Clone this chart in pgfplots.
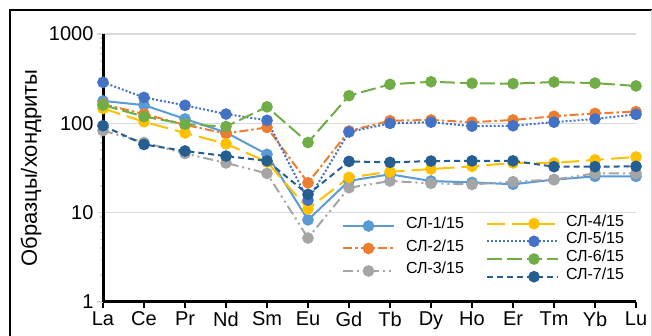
\documentclass[border=0pt]{standalone}
\usepackage{fontspec}
\setmainfont{Liberation Sans}
\usepackage{pgfplots}
\pgfplotsset{compat=1.18}
\definecolor{c1}{HTML}{5B9BD5}
\definecolor{c2}{HTML}{ED7D31}
\definecolor{c3}{HTML}{A5A5A5}
\definecolor{c4}{HTML}{FFC000}
\definecolor{c5}{HTML}{4472C4}
\definecolor{c6}{HTML}{70AD47}
\definecolor{c7}{HTML}{255E91}
\definecolor{gridc}{HTML}{D9D9D9}
\pgfplotstableread{
x  s1    s2    s3    s4    s5    s6    s7
0  178   164   83    147   288   160   94
1  160   127   61    104   195   119   58
2  112   96    46    78    159   98    49
3  79    77    36    59    127   92    43
4  45    90    27.5  37    108   153   38
5  8.3   21.6  5.2   11    13.8  61    16
6  22.7  82    19    24.8  80    204   37.5
7  26.9  107   22.6  28.7  100   273   36.6
8  22.6  109   21.3  30.8  103   292   37.8
9  21.8  103   20.7  33    93    281   38
10 20.8  109   22.2  36    94    278   38
11 23.4  120   23.5  36    103   290   32.7
12 25.5  129   27.5  39    112   282   32.7
13 25.5  135   27.5  42    126   262   33
}\ree
\tikzset{
  lstyle1/.style={c1, line width=2pt, solid, mark=*, mark size=4.8pt, mark options={solid, fill=c1}},
  lstyle2/.style={c2, line width=2pt, dash pattern=on 9pt off 3pt on 2.5pt off 3pt, mark=*, mark size=4.8pt, mark options={solid, fill=c2}},
  lstyle3/.style={c3, line width=2pt, dash pattern=on 10pt off 4pt on 2pt off 4pt on 2pt off 4pt, mark=*, mark size=4.8pt, mark options={solid, fill=c3}},
  lstyle4/.style={c4, line width=2pt, dash pattern=on 18pt off 7pt, mark=*, mark size=4.8pt, mark options={solid, fill=c4}},
  lstyle5/.style={c5, line width=2pt, dash pattern=on 2pt off 2pt, mark=*, mark size=4.8pt, mark options={solid, fill=c5}},
  lstyle6/.style={c6, line width=2pt, dash pattern=on 15pt off 5pt, mark=*, mark size=4.8pt, mark options={solid, fill=c6}},
  lstyle7/.style={c7, line width=2pt, dash pattern=on 6pt off 4pt, mark=*, mark size=4.8pt, mark options={solid, fill=c7}},
}
\begin{document}
\begin{tikzpicture}
\path[use as bounding box] (0,0) rectangle (652pt,336pt);
\draw[black, line width=1.2pt] (10pt,0) -- (10pt,326pt) -- (652pt,326pt);
\draw[gridc, line width=1pt] (651pt,0) -- (651pt,326pt);
\node[rotate=90, font=\fontsize{22}{22}\selectfont] at (31pt,168pt) {Образцы/хондриты};
\begin{axis}[
  scale only axis, width=533pt, height=268pt,
  at={(103pt,34pt)}, anchor=south west,
  xmin=0, xmax=13, ymode=log, ymin=1, ymax=1000,
  axis x line=bottom, axis y line=left,
  axis line style={-, black, line width=3pt},
  xtick={0,...,13},
  xticklabels={La,Ce,Pr,Nd,Sm,Eu,Gd,Tb,Dy,Ho,Er,Tm,Yb,Lu},
  ytick={1,10,100,1000}, yticklabels={1,10,100,1000},
  minor ytick={},
  tick align=outside, major tick length=6pt,
  x tick style={black, line width=2.5pt},
  y tick style={gridc, line width=1.5pt},
  ymajorgrids, grid style={gridc, line width=1.5pt},
  tick label style={font=\fontsize{20}{20}\selectfont},
  clip=false,
  legend cell align=left,
  legend image code/.code={\draw[mark repeat=2,mark phase=2] plot coordinates {(0pt,0pt)(47pt,0pt)(71pt,0pt)};},
  legend style={draw=none, fill=none, inner sep=0pt, outer sep=0pt,
    at={(0.7186,0.3254)}, anchor=north west,
    font=\fontsize{16}{16}\selectfont,
    nodes={inner sep=0pt, text height=11.5pt, text depth=6.2pt},
    /tikz/every odd column/.append style={column sep=7pt}},
]
\addplot[lstyle1, forget plot] table[x=x,y=s1]{\ree};
\addplot[lstyle2, forget plot] table[x=x,y=s2]{\ree};
\addplot[lstyle3, forget plot] table[x=x,y=s3]{\ree};
\addplot[lstyle4] table[x=x,y=s4]{\ree}; \addlegendentry{СЛ-4/15}
\addplot[lstyle5] table[x=x,y=s5]{\ree}; \addlegendentry{СЛ-5/15}
\addplot[lstyle6] table[x=x,y=s6]{\ree}; \addlegendentry{СЛ-6/15}
\addplot[lstyle7] table[x=x,y=s7]{\ree}; \addlegendentry{СЛ-7/15}
\end{axis}
\begin{axis}[
  scale only axis, width=533pt, height=268pt,
  at={(103pt,34pt)}, anchor=south west,
  xmin=0, xmax=13, ymin=1, ymax=1000, hide axis,
  legend cell align=left,
  legend image code/.code={\draw[mark repeat=2,mark phase=2] plot coordinates {(0pt,0pt)(25.5pt,0pt)(51pt,0pt)};},
  legend style={draw=none, fill=none, inner sep=0pt, outer sep=0pt,
    at={(0.4484,0.3256)}, anchor=north west,
    font=\fontsize{16}{16}\selectfont,
    nodes={inner sep=0pt, text height=13.9pt, text depth=8.6pt},
    /tikz/every odd column/.append style={column sep=11pt}},
]
\addlegendimage{lstyle1}\addlegendentry{СЛ-1/15}
\addlegendimage{lstyle2}\addlegendentry{СЛ-2/15}
\addlegendimage{lstyle3}\addlegendentry{СЛ-3/15}
\end{axis}
\end{tikzpicture}
\end{document}
